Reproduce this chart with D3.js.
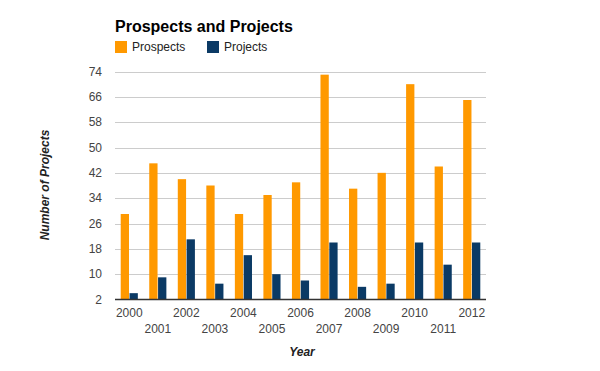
<!DOCTYPE html>
<html>
<head>
<meta charset="utf-8">
<script src="https://cdn.jsdelivr.net/npm/d3@7"></script>
<style>
  body { margin: 0; background: #fff; }
  svg { display: block; font-family: "Liberation Sans", Arial, sans-serif; }
</style>
</head>
<body>
<svg id="chart" width="600" height="371"></svg>
<script>
const years = ['2000', '2001', '2002', '2003', '2004', '2005', '2006', '2007', '2008', '2009', '2010', '2011', '2012'];
const prospects = [29, 45, 40, 38, 29, 35, 39, 73, 37, 42, 70, 44, 65];
const projects = [4, 9, 21, 7, 16, 10, 8, 20, 6, 7, 20, 13, 20];
const yTicks = [2, 10, 18, 26, 34, 42, 50, 58, 66, 74];
const seriesNames = ['Prospects', 'Projects'];
const colors = ['#ff9900', '#0b3a65'];

const svg = d3.select('#chart');
const margin = {top: 71.5, right: 114, bottom: 71.5, left: 115};
const width = 600, height = 371;

const x = d3.scaleBand()
  .domain(years)
  .range([margin.left, width - margin.right])
  .paddingInner(0.4)
  .paddingOuter(0.2);

const sub = d3.scaleBand()
  .domain(seriesNames)
  .range([0, x.bandwidth()])
  .paddingInner(0.06);

const y = d3.scaleLinear()
  .domain([2, 74])
  .range([height - margin.bottom, margin.top]);

// gridlines
svg.append('g')
  .selectAll('line')
  .data(yTicks.slice(1))
  .enter().append('line')
  .attr('x1', margin.left)
  .attr('x2', width - margin.right)
  .attr('y1', d => Math.round(y(d)) + 0.5)
  .attr('y2', d => Math.round(y(d)) + 0.5)
  .attr('stroke', '#cccccc')
  .attr('stroke-width', 1);

// y labels
svg.append('g')
  .attr('font-size', 12)
  .attr('fill', '#444')
  .selectAll('text')
  .data(yTicks)
  .enter().append('text')
  .attr('x', 102)
  .attr('y', d => y(d))
  .attr('dy', '0.35em')
  .attr('text-anchor', 'end')
  .text(d => d);

// bars
const data = years.map((yr, i) => ({year: yr, values: [prospects[i], projects[i]]}));
svg.append('g')
  .selectAll('g')
  .data(data)
  .enter().append('g')
  .attr('transform', d => `translate(${x(d.year)},0)`)
  .selectAll('rect')
  .data(d => d.values.map((v, j) => ({name: seriesNames[j], value: v, color: colors[j]})))
  .enter().append('rect')
  .attr('x', d => sub(d.name))
  .attr('width', sub.bandwidth())
  .attr('y', d => y(d.value))
  .attr('height', d => y(2) - y(d.value))
  .attr('fill', d => d.color);

// baseline
svg.append('line')
  .attr('x1', margin.left)
  .attr('x2', width - margin.right)
  .attr('y1', Math.round(y(2)) - 0.5)
  .attr('y2', Math.round(y(2)) - 0.5)
  .attr('stroke', '#333')
  .attr('stroke-width', 1.5);

// x labels, staggered
svg.append('g')
  .attr('font-size', 12)
  .attr('fill', '#444')
  .selectAll('text')
  .data(years)
  .enter().append('text')
  .attr('x', d => x(d) + x.bandwidth() / 2)
  .attr('y', (d, i) => i % 2 === 0 ? 317 : 333)
  .attr('text-anchor', 'middle')
  .text(d => d);

// axis titles
svg.append('text')
  .attr('x', 302)
  .attr('y', 356)
  .attr('text-anchor', 'middle')
  .attr('font-size', 12)
  .attr('font-weight', 'bold')
  .attr('font-style', 'italic')
  .attr('fill', '#222')
  .text('Year');

svg.append('text')
  .attr('transform', 'translate(49,185) rotate(-90)')
  .attr('text-anchor', 'middle')
  .attr('font-size', 12)
  .attr('font-weight', 'bold')
  .attr('font-style', 'italic')
  .attr('fill', '#222')
  .text('Number of Projects');

// title
svg.append('text')
  .attr('x', 115)
  .attr('y', 32)
  .attr('font-size', 16)
  .attr('font-weight', 'bold')
  .attr('fill', '#000')
  .text('Prospects and Projects');

// legend
const legendX = [115, 207];
const legend = svg.append('g')
  .selectAll('g')
  .data(seriesNames)
  .enter().append('g')
  .attr('transform', (d, i) => `translate(${legendX[i]},41)`);

legend.append('rect')
  .attr('width', 12)
  .attr('height', 12)
  .attr('fill', (d, i) => colors[i]);

legend.append('text')
  .attr('x', 17)
  .attr('y', 10)
  .attr('font-size', 12)
  .attr('fill', '#222')
  .text(d => d);
</script>
</body>
</html>
